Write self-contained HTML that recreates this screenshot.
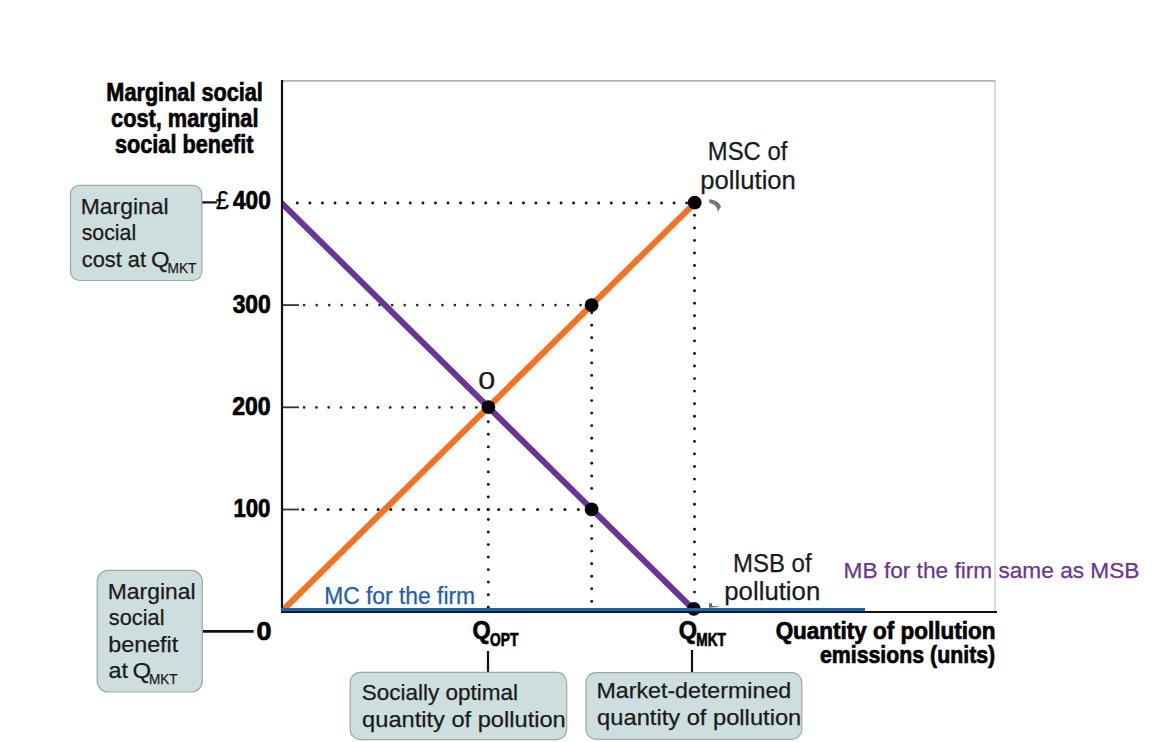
<!DOCTYPE html>
<html><head><meta charset="utf-8">
<style>
html,body{margin:0;padding:0;background:#fff;}
body{width:1156px;height:742px;overflow:hidden;position:relative;}
svg{position:absolute;left:0;top:0;}
text{font-family:"Liberation Sans",sans-serif;}
</style></head>
<body>
<svg width="1156" height="742" viewBox="0 0 1156 742">
<line x1="282" y1="80.8" x2="995.6" y2="80.8" stroke="#b3b3b3" stroke-width="1.7"/>
<line x1="995" y1="80" x2="995" y2="611" stroke="#cfcfcf" stroke-width="1.5"/>
<g fill="#111">
<circle cx="297.3" cy="203.0" r="1.45"/><circle cx="309.9" cy="203.0" r="1.45"/><circle cx="322.4" cy="203.0" r="1.45"/><circle cx="335.0" cy="203.0" r="1.45"/><circle cx="347.5" cy="203.0" r="1.45"/><circle cx="360.1" cy="203.0" r="1.45"/><circle cx="372.7" cy="203.0" r="1.45"/><circle cx="385.2" cy="203.0" r="1.45"/><circle cx="397.8" cy="203.0" r="1.45"/><circle cx="410.3" cy="203.0" r="1.45"/><circle cx="422.9" cy="203.0" r="1.45"/><circle cx="435.5" cy="203.0" r="1.45"/><circle cx="448.0" cy="203.0" r="1.45"/><circle cx="460.6" cy="203.0" r="1.45"/><circle cx="473.1" cy="203.0" r="1.45"/><circle cx="485.7" cy="203.0" r="1.45"/><circle cx="498.3" cy="203.0" r="1.45"/><circle cx="510.8" cy="203.0" r="1.45"/><circle cx="523.4" cy="203.0" r="1.45"/><circle cx="535.9" cy="203.0" r="1.45"/><circle cx="548.5" cy="203.0" r="1.45"/><circle cx="561.1" cy="203.0" r="1.45"/><circle cx="573.6" cy="203.0" r="1.45"/><circle cx="586.2" cy="203.0" r="1.45"/><circle cx="598.7" cy="203.0" r="1.45"/><circle cx="611.3" cy="203.0" r="1.45"/><circle cx="623.9" cy="203.0" r="1.45"/><circle cx="636.4" cy="203.0" r="1.45"/><circle cx="649.0" cy="203.0" r="1.45"/><circle cx="661.5" cy="203.0" r="1.45"/><circle cx="674.1" cy="203.0" r="1.45"/><circle cx="686.7" cy="203.0" r="1.45"/>
<circle cx="303.0" cy="509.4" r="1.5"/><circle cx="315.5" cy="509.4" r="1.5"/><circle cx="328.1" cy="509.4" r="1.5"/><circle cx="340.6" cy="509.4" r="1.5"/><circle cx="353.2" cy="509.4" r="1.5"/><circle cx="365.7" cy="509.4" r="1.5"/><circle cx="378.2" cy="509.4" r="1.5"/><circle cx="390.8" cy="509.4" r="1.5"/><circle cx="403.3" cy="509.4" r="1.5"/><circle cx="415.9" cy="509.4" r="1.5"/><circle cx="428.4" cy="509.4" r="1.5"/><circle cx="440.9" cy="509.4" r="1.5"/><circle cx="453.5" cy="509.4" r="1.5"/><circle cx="466.0" cy="509.4" r="1.5"/><circle cx="478.6" cy="509.4" r="1.5"/><circle cx="488.3" cy="509.4" r="1.5"/><circle cx="498.7" cy="509.4" r="1.5"/><circle cx="511.0" cy="509.4" r="1.5"/><circle cx="523.7" cy="509.4" r="1.5"/><circle cx="537.6" cy="509.4" r="1.5"/><circle cx="551.5" cy="509.4" r="1.5"/><circle cx="564.9" cy="509.4" r="1.5"/><circle cx="578.4" cy="509.4" r="1.5"/>
<circle cx="694.5" cy="215.3" r="1.45"/><circle cx="694.5" cy="227.9" r="1.45"/><circle cx="694.5" cy="240.4" r="1.45"/><circle cx="694.5" cy="253.0" r="1.45"/><circle cx="694.5" cy="265.5" r="1.45"/><circle cx="694.5" cy="278.1" r="1.45"/><circle cx="694.5" cy="290.7" r="1.45"/><circle cx="694.5" cy="303.2" r="1.45"/><circle cx="694.5" cy="315.8" r="1.45"/><circle cx="694.5" cy="328.3" r="1.45"/><circle cx="694.5" cy="340.9" r="1.45"/><circle cx="694.5" cy="353.5" r="1.45"/><circle cx="694.5" cy="366.0" r="1.45"/><circle cx="694.5" cy="378.6" r="1.45"/><circle cx="694.5" cy="391.1" r="1.45"/><circle cx="694.5" cy="403.7" r="1.45"/><circle cx="694.5" cy="416.3" r="1.45"/><circle cx="694.5" cy="428.8" r="1.45"/><circle cx="694.5" cy="441.4" r="1.45"/><circle cx="694.5" cy="453.9" r="1.45"/><circle cx="694.5" cy="466.5" r="1.45"/><circle cx="694.5" cy="479.1" r="1.45"/><circle cx="694.5" cy="491.6" r="1.45"/><circle cx="694.5" cy="504.2" r="1.45"/><circle cx="694.5" cy="516.7" r="1.45"/><circle cx="694.5" cy="529.3" r="1.45"/><circle cx="694.5" cy="541.9" r="1.45"/><circle cx="694.5" cy="554.4" r="1.45"/><circle cx="694.5" cy="567.0" r="1.45"/><circle cx="694.5" cy="579.5" r="1.45"/><circle cx="694.5" cy="592.1" r="1.45"/>
<circle cx="591.7" cy="312.7" r="1.45"/><circle cx="591.7" cy="325.2" r="1.45"/><circle cx="591.7" cy="337.8" r="1.45"/><circle cx="591.7" cy="350.4" r="1.45"/><circle cx="591.7" cy="362.9" r="1.45"/><circle cx="591.7" cy="375.4" r="1.45"/><circle cx="591.7" cy="388.0" r="1.45"/><circle cx="591.7" cy="400.6" r="1.45"/><circle cx="591.7" cy="413.1" r="1.45"/><circle cx="591.7" cy="425.6" r="1.45"/><circle cx="591.7" cy="438.2" r="1.45"/><circle cx="591.7" cy="450.8" r="1.45"/><circle cx="591.7" cy="463.3" r="1.45"/><circle cx="591.7" cy="475.9" r="1.45"/><circle cx="591.7" cy="488.4" r="1.45"/><circle cx="591.7" cy="513.5" r="1.45"/><circle cx="591.7" cy="526.0" r="1.45"/><circle cx="591.7" cy="538.6" r="1.45"/><circle cx="591.7" cy="551.1" r="1.45"/><circle cx="591.7" cy="563.7" r="1.45"/><circle cx="591.7" cy="576.2" r="1.45"/><circle cx="591.7" cy="588.8" r="1.45"/><circle cx="591.7" cy="601.4" r="1.45"/>
<circle cx="488.3" cy="421.8" r="1.45"/><circle cx="488.3" cy="434.3" r="1.45"/><circle cx="488.3" cy="446.9" r="1.45"/><circle cx="488.3" cy="459.4" r="1.45"/><circle cx="488.3" cy="471.9" r="1.45"/><circle cx="488.3" cy="484.4" r="1.45"/><circle cx="488.3" cy="497.0" r="1.45"/><circle cx="488.3" cy="509.5" r="1.45"/><circle cx="488.3" cy="519.5" r="1.45"/><circle cx="488.3" cy="532.0" r="1.45"/><circle cx="488.3" cy="544.6" r="1.45"/><circle cx="488.3" cy="557.1" r="1.45"/><circle cx="488.3" cy="569.6" r="1.45"/><circle cx="488.3" cy="582.1" r="1.45"/><circle cx="488.3" cy="594.7" r="1.45"/><circle cx="488.3" cy="607.2" r="1.45"/>
</g>
<g fill="#2a2a2a">
<circle cx="304.1" cy="305.1" r="1.35"/><circle cx="316.7" cy="305.1" r="1.35"/><circle cx="329.2" cy="305.1" r="1.35"/><circle cx="341.8" cy="305.1" r="1.35"/><circle cx="354.4" cy="305.1" r="1.35"/><circle cx="367.0" cy="305.1" r="1.35"/><circle cx="379.5" cy="305.1" r="1.35"/><circle cx="392.1" cy="305.1" r="1.35"/><circle cx="404.7" cy="305.1" r="1.35"/><circle cx="417.2" cy="305.1" r="1.35"/><circle cx="429.8" cy="305.1" r="1.35"/><circle cx="442.4" cy="305.1" r="1.35"/><circle cx="454.9" cy="305.1" r="1.35"/><circle cx="467.5" cy="305.1" r="1.35"/><circle cx="480.1" cy="305.1" r="1.35"/><circle cx="492.7" cy="305.1" r="1.35"/><circle cx="505.2" cy="305.1" r="1.35"/><circle cx="517.8" cy="305.1" r="1.35"/><circle cx="530.4" cy="305.1" r="1.35"/><circle cx="542.9" cy="305.1" r="1.35"/><circle cx="555.5" cy="305.1" r="1.35"/><circle cx="568.1" cy="305.1" r="1.35"/><circle cx="580.6" cy="305.1" r="1.35"/>
<circle cx="304.1" cy="407.4" r="1.35"/><circle cx="316.4" cy="407.4" r="1.35"/><circle cx="328.7" cy="407.4" r="1.35"/><circle cx="341.0" cy="407.4" r="1.35"/><circle cx="353.3" cy="407.4" r="1.35"/><circle cx="365.6" cy="407.4" r="1.35"/><circle cx="377.9" cy="407.4" r="1.35"/><circle cx="390.2" cy="407.4" r="1.35"/><circle cx="402.5" cy="407.4" r="1.35"/><circle cx="414.8" cy="407.4" r="1.35"/><circle cx="427.1" cy="407.4" r="1.35"/><circle cx="439.4" cy="407.4" r="1.35"/><circle cx="451.7" cy="407.4" r="1.35"/><circle cx="464.0" cy="407.4" r="1.35"/><circle cx="476.3" cy="407.4" r="1.35"/>
</g>
<g stroke="#333" stroke-width="1.8">
<line x1="283" y1="305.1" x2="299" y2="305.1"/>
<line x1="283" y1="407.3" x2="299" y2="407.3"/>
<line x1="283" y1="509.5" x2="299" y2="509.5"/>
</g>
<g stroke="#111" stroke-width="2.2">
<line x1="201.6" y1="202.4" x2="217" y2="202.4"/>
<line x1="202.3" y1="631.3" x2="253.7" y2="631.3" stroke-width="2.7"/>
<line x1="488" y1="651" x2="488" y2="672.5"/>
<line x1="692" y1="650" x2="692" y2="672.7"/>
</g>
<defs><clipPath id="pc"><rect x="282" y="150" width="500" height="462"/></clipPath></defs>
<g clip-path="url(#pc)"><line x1="279" y1="614" x2="694.5" y2="203.3" stroke="#f47322" stroke-width="6.1"/>
<line x1="278" y1="199.5" x2="694" y2="610" stroke="#6a3597" stroke-width="6.0"/></g>
<g fill="#000">
<circle cx="694.7" cy="202.7" r="6.9"/>
<circle cx="591.6" cy="305.2" r="6.9"/>
<circle cx="488.4" cy="407.1" r="6.9"/>
<circle cx="591.6" cy="509.3" r="6.9"/>
<circle cx="693.8" cy="608.8" r="6.9"/>
</g>
<line x1="282" y1="80" x2="282" y2="612" stroke="#111" stroke-width="2.2"/>
<line x1="281" y1="612" x2="997" y2="612" stroke="#111" stroke-width="2.2"/>
<line x1="281" y1="609.7" x2="865" y2="609.7" stroke="#1f60aa" stroke-width="3.2"/>
<path d="M708.8 199.4 C714 199.3 719.5 201.5 721 206.5 L717.6 212.3 C717.8 207.5 714.5 203.8 709.6 203.3 Z" fill="#767676"/>
<path d="M709 603.2 H712 V605.9 L718.5 606.2 V607 L709 607.7 Z" fill="#6a6a6a"/>
<g fill="#cedede" stroke="#9aa8a8" stroke-width="1.2">
<rect x="70.5" y="185.3" width="131.3" height="95.2" rx="9"/>
<rect x="97.2" y="570.4" width="105.1" height="121.6" rx="11"/>
<rect x="350.2" y="672.4" width="216.5" height="67.2" rx="10"/>
<rect x="586" y="672.7" width="215.8" height="66.6" rx="10"/>
</g>

<text id="t1" x="106.37" y="100.70" font-size="26.4" font-weight="bold" fill="#000" stroke="#000" stroke-width="0.7" textLength="156.52" lengthAdjust="spacingAndGlyphs">Marginal social</text>
<text id="t2" x="111.06" y="126.50" font-size="26.4" font-weight="bold" fill="#000" stroke="#000" stroke-width="0.7" textLength="147.41" lengthAdjust="spacingAndGlyphs">cost, marginal</text>
<text id="t3" x="114.99" y="153.00" font-size="26.4" font-weight="bold" fill="#000" stroke="#000" stroke-width="0.7" textLength="138.50" lengthAdjust="spacingAndGlyphs">social benefit</text>
<text id="pound" x="215.69" y="208.80" font-size="25.0" font-weight="normal" fill="#000" stroke="#000" stroke-width="0.25" textLength="13.21" lengthAdjust="spacingAndGlyphs">£</text>
<text id="d400" x="233.06" y="208.80" font-size="25.0" font-weight="bold" fill="#000" stroke="#000" stroke-width="0.7" textLength="37.70" lengthAdjust="spacingAndGlyphs">400</text>
<text id="d300" x="232.64" y="312.60" font-size="25.0" font-weight="bold" fill="#000" stroke="#000" stroke-width="0.7" textLength="38.20" lengthAdjust="spacingAndGlyphs">300</text>
<text id="d200" x="232.18" y="415.20" font-size="25.0" font-weight="bold" fill="#000" stroke="#000" stroke-width="0.7" textLength="38.50" lengthAdjust="spacingAndGlyphs">200</text>
<text id="d100" x="233.41" y="517.20" font-size="25.0" font-weight="bold" fill="#000" stroke="#000" stroke-width="0.7" textLength="37.07" lengthAdjust="spacingAndGlyphs">100</text>
<text id="d0" x="256.62" y="640.00" font-size="25.0" font-weight="bold" fill="#000" stroke="#000" stroke-width="0.7" textLength="14.96" lengthAdjust="spacingAndGlyphs">0</text>
<text id="b1l1" x="80.78" y="214.30" font-size="22.0" font-weight="normal" fill="#1a1a1a" stroke="#1a1a1a" stroke-width="0.25" textLength="87.74" lengthAdjust="spacingAndGlyphs">Marginal</text>
<text id="b1l2" x="81.69" y="240.30" font-size="22.0" font-weight="normal" fill="#1a1a1a" stroke="#1a1a1a" stroke-width="0.25" textLength="54.52" lengthAdjust="spacingAndGlyphs">social</text>
<text id="b1l3" x="81.75" y="266.80" font-size="22.0" font-weight="normal" fill="#1a1a1a" stroke="#1a1a1a" stroke-width="0.25" textLength="64.33" lengthAdjust="spacingAndGlyphs">cost at</text>
<text id="b1Q" x="151.01" y="266.80" font-size="22.0" font-weight="normal" fill="#1a1a1a" stroke="#1a1a1a" stroke-width="0.25" textLength="18.57" lengthAdjust="spacingAndGlyphs">Q</text>
<text id="b1s" x="167.45" y="272.50" font-size="14.5" font-weight="normal" fill="#1a1a1a" stroke="#1a1a1a" stroke-width="0.25" textLength="29.01" lengthAdjust="spacingAndGlyphs">MKT</text>
<text id="b2l1" x="107.81" y="599.40" font-size="22.0" font-weight="normal" fill="#1a1a1a" stroke="#1a1a1a" stroke-width="0.25" textLength="87.71" lengthAdjust="spacingAndGlyphs">Marginal</text>
<text id="b2l2" x="108.86" y="625.40" font-size="22.0" font-weight="normal" fill="#1a1a1a" stroke="#1a1a1a" stroke-width="0.25" textLength="55.61" lengthAdjust="spacingAndGlyphs">social</text>
<text id="b2l3" x="108.16" y="651.80" font-size="22.0" font-weight="normal" fill="#1a1a1a" stroke="#1a1a1a" stroke-width="0.25" textLength="70.14" lengthAdjust="spacingAndGlyphs">benefit</text>
<text id="b2l4" x="108.64" y="678.10" font-size="22.0" font-weight="normal" fill="#1a1a1a" stroke="#1a1a1a" stroke-width="0.25" textLength="19.49" lengthAdjust="spacingAndGlyphs">at</text>
<text id="b2Q" x="132.40" y="678.10" font-size="22.0" font-weight="normal" fill="#1a1a1a" stroke="#1a1a1a" stroke-width="0.25" textLength="18.64" lengthAdjust="spacingAndGlyphs">Q</text>
<text id="b2s" x="149.00" y="683.60" font-size="14.5" font-weight="normal" fill="#1a1a1a" stroke="#1a1a1a" stroke-width="0.25" textLength="28.55" lengthAdjust="spacingAndGlyphs">MKT</text>
<text id="b3l1" x="361.88" y="699.70" font-size="22.0" font-weight="normal" fill="#1a1a1a" stroke="#1a1a1a" stroke-width="0.25" textLength="156.06" lengthAdjust="spacingAndGlyphs">Socially optimal</text>
<text id="b3l2" x="362.13" y="726.50" font-size="22.0" font-weight="normal" fill="#1a1a1a" stroke="#1a1a1a" stroke-width="0.25" textLength="203.62" lengthAdjust="spacingAndGlyphs">quantity of pollution</text>
<text id="b4l1" x="596.49" y="698.00" font-size="22.0" font-weight="normal" fill="#1a1a1a" stroke="#1a1a1a" stroke-width="0.25" textLength="194.72" lengthAdjust="spacingAndGlyphs">Market-determined</text>
<text id="b4l2" x="597.12" y="725.00" font-size="22.0" font-weight="normal" fill="#1a1a1a" stroke="#1a1a1a" stroke-width="0.25" textLength="204.15" lengthAdjust="spacingAndGlyphs">quantity of pollution</text>
<text id="msc1" x="707.82" y="160.40" font-size="25.5" font-weight="normal" fill="#1a1a1a" stroke="#1a1a1a" stroke-width="0.25" textLength="79.58" lengthAdjust="spacingAndGlyphs">MSC of</text>
<text id="msc2" x="700.35" y="188.50" font-size="25.5" font-weight="normal" fill="#1a1a1a" stroke="#1a1a1a" stroke-width="0.25" textLength="95.55" lengthAdjust="spacingAndGlyphs">pollution</text>
<text id="msb1" x="733.07" y="572.10" font-size="26.0" font-weight="normal" fill="#1a1a1a" stroke="#1a1a1a" stroke-width="0.25" textLength="78.52" lengthAdjust="spacingAndGlyphs">MSB of</text>
<text id="msb2" x="724.31" y="600.40" font-size="25.8" font-weight="normal" fill="#1a1a1a" stroke="#1a1a1a" stroke-width="0.25" textLength="95.94" lengthAdjust="spacingAndGlyphs">pollution</text>
<text id="O" x="478.38" y="389.20" font-size="24.5" font-weight="normal" fill="#1a1a1a" stroke="#1a1a1a" stroke-width="0.25" textLength="16.98" lengthAdjust="spacingAndGlyphs">0</text>
<text id="xl1" x="775.63" y="638.80" font-size="24.0" font-weight="bold" fill="#000" stroke="#000" stroke-width="0.7" textLength="219.76" lengthAdjust="spacingAndGlyphs">Quantity of pollution</text>
<text id="xl2" x="819.91" y="663.00" font-size="24.0" font-weight="bold" fill="#000" stroke="#000" stroke-width="0.7" textLength="175.31" lengthAdjust="spacingAndGlyphs">emissions (units)</text>
<text id="qoQ" x="472.57" y="639.20" font-size="25.0" font-weight="bold" fill="#000" stroke="#000" stroke-width="0.7" textLength="18.17" lengthAdjust="spacingAndGlyphs">Q</text>
<text id="qoS" x="490.08" y="645.60" font-size="17.5" font-weight="bold" fill="#000" stroke="#000" stroke-width="0.7" textLength="28.27" lengthAdjust="spacingAndGlyphs">OPT</text>
<text id="qmQ" x="678.83" y="639.20" font-size="25.0" font-weight="bold" fill="#000" stroke="#000" stroke-width="0.7" textLength="18.28" lengthAdjust="spacingAndGlyphs">Q</text>
<text id="qmS" x="696.31" y="645.60" font-size="17.5" font-weight="bold" fill="#000" stroke="#000" stroke-width="0.7" textLength="29.63" lengthAdjust="spacingAndGlyphs">MKT</text>
<text id="mc" x="324.16" y="603.80" font-size="23.5" font-weight="normal" fill="#1f60aa" stroke="#1f60aa" stroke-width="0.25" textLength="150.97" lengthAdjust="spacingAndGlyphs">MC for the firm</text>
<text id="mb" x="843.61" y="577.60" font-size="22.8" font-weight="normal" fill="#6a3591" stroke="#6a3591" stroke-width="0.25" textLength="295.85" lengthAdjust="spacingAndGlyphs">MB for the firm same as MSB</text>
</svg>
</body></html>
